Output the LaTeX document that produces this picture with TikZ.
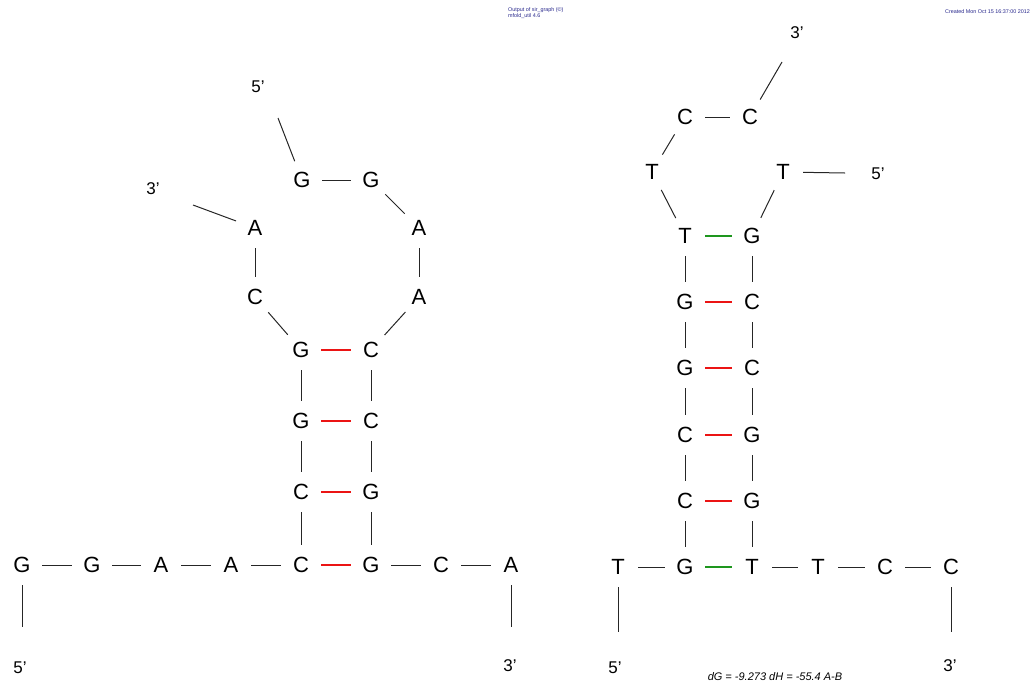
\documentclass[tikz,border=0pt]{standalone}
\usepackage{fontspec}
\setmainfont{Liberation Sans}
\definecolor{hdr}{RGB}{40,40,140}
\definecolor{pairred}{RGB}{235,20,20}
\definecolor{pairgreen}{RGB}{30,150,30}
\begin{document}
\begin{tikzpicture}[x=1pt,y=-1pt,
  base/.style={circle,inner sep=0pt,minimum size=40pt,font=\fontsize{22}{22}\selectfont},
  endlab/.style={inner sep=0pt,font=\fontsize{17}{17}\selectfont},
  bond/.style={line width=1pt,draw=black!85},
  redpair/.style={line width=1.1pt,draw=pairred},
  greenpair/.style={line width=1.1pt,draw=pairgreen},
  hdrtxt/.style={inner sep=0pt,text=hdr,font=\fontsize{5.4}{6}\selectfont,align=left}]
\useasboundingbox (0,0) rectangle (1032,686);
% header
\node[hdrtxt,anchor=north west] (h1) at (508,7) {Output of sir\_graph (©)\\mfold\_util 4.6};
\node[hdrtxt,anchor=north east] (h2) at (1030,9) {Created Mon Oct 15 16:37:00 2012};
% ---------- left structure ----------
\node[base] (l1) at (22,565) {G};
\node[base] (l2) at (92,565) {G};
\node[base] (l3) at (161,565) {A};
\node[base] (l4) at (231,565) {A};
\node[base] (l5) at (301,565) {C};
\node[base] (l6) at (371,565) {G};
\node[base] (l7) at (441,565) {C};
\node[base] (l8) at (511,565) {A};
\node[base] (s1) at (301,492) {C};
\node[base] (t1) at (371,492) {G};
\node[base] (s2) at (301,421) {G};
\node[base] (t2) at (371,421) {C};
\node[base] (s3) at (301,350) {G};
\node[base] (t3) at (371,350) {C};
\node[base] (lc) at (255,297) {C};
\node[base] (la1) at (255,228) {A};
\node[base] (lg1) at (302,180) {G};
\node[base] (lg2) at (371,180) {G};
\node[base] (la2) at (419,228) {A};
\node[base] (la3) at (419,297) {A};
\coordinate (l1e) at (22,627);
\coordinate (l8e) at (511,627);
\coordinate (lg1e) at (278,118);
\coordinate (la1e) at (193,205);
\node[endlab] (l5p) at (20,668) {5’};
\node[endlab] (l3p) at (510,666) {3’};
\node[endlab] (h5p) at (258,87) {5’};
\node[endlab] (h3p) at (153,189) {3’};
\draw[bond] (l1) -- (l2);
\draw[bond] (l2) -- (l3);
\draw[bond] (l3) -- (l4);
\draw[bond] (l4) -- (l5);
\draw[bond] (l6) -- (l7);
\draw[bond] (l7) -- (l8);
\draw[redpair] (l5) -- (l6);
\draw[bond] (l1) -- (l1e);
\draw[bond] (l8) -- (l8e);
\draw[bond] (l5) -- (s1);
\draw[bond] (s1) -- (s2);
\draw[bond] (s2) -- (s3);
\draw[bond] (l6) -- (t1);
\draw[bond] (t1) -- (t2);
\draw[bond] (t2) -- (t3);
\draw[redpair] (s1) -- (t1);
\draw[redpair] (s2) -- (t2);
\draw[redpair] (s3) -- (t3);
\draw[bond] (s3) -- (lc);
\draw[bond] (lc) -- (la1);
\draw[bond] (la1) -- (la1e);
\draw[bond] (lg1) -- (lg1e);
\draw[bond] (lg1) -- (lg2);
\draw[bond] (lg2) -- (la2);
\draw[bond] (la2) -- (la3);
\draw[bond] (la3) -- (t3);
% ---------- right structure ----------
\node[base] (r1) at (618,567) {T};
\node[base] (r2) at (685,567) {G};
\node[base] (r3) at (752,567) {T};
\node[base] (r4) at (818,567) {T};
\node[base] (r5) at (885,567) {C};
\node[base] (r6) at (951,567) {C};
\node[base] (u1) at (685,501) {C};
\node[base] (v1) at (752,501) {G};
\node[base] (u2) at (685,435) {C};
\node[base] (v2) at (752,435) {G};
\node[base] (u3) at (685,368) {G};
\node[base] (v3) at (752,368) {C};
\node[base] (u4) at (685,302) {G};
\node[base] (v4) at (752,302) {C};
\node[base] (u5) at (685,236) {T};
\node[base] (v5) at (752,236) {G};
\node[base] (rt1) at (652,172) {T};
\node[base] (rc1) at (685,117) {C};
\node[base] (rc2) at (750,117) {C};
\node[base] (rt2) at (783,172) {T};
\coordinate (r1e) at (618,632);
\coordinate (r6e) at (951,632);
\coordinate (rc2e) at (782,62);
\coordinate (rt2e) at (845,173);
\node[endlab] (r5p) at (615,668) {5’};
\node[endlab] (r3p) at (950,666) {3’};
\node[endlab] (q3p) at (797,33) {3’};
\node[endlab] (q5p) at (878,174) {5’};
\node[inner sep=0pt,font=\fontsize{11}{11}\selectfont\itshape] (dg) at (775,677) {dG = -9.273 dH = -55.4 A-B};
\draw[bond] (r1) -- (r2);
\draw[greenpair] (r2) -- (r3);
\draw[bond] (r3) -- (r4);
\draw[bond] (r4) -- (r5);
\draw[bond] (r5) -- (r6);
\draw[bond] (r1) -- (r1e);
\draw[bond] (r6) -- (r6e);
\draw[bond] (r2) -- (u1);
\draw[bond] (u1) -- (u2);
\draw[bond] (u2) -- (u3);
\draw[bond] (u3) -- (u4);
\draw[bond] (u4) -- (u5);
\draw[bond] (r3) -- (v1);
\draw[bond] (v1) -- (v2);
\draw[bond] (v2) -- (v3);
\draw[bond] (v3) -- (v4);
\draw[bond] (v4) -- (v5);
\draw[redpair] (u1) -- (v1);
\draw[redpair] (u2) -- (v2);
\draw[redpair] (u3) -- (v3);
\draw[redpair] (u4) -- (v4);
\draw[greenpair] (u5) -- (v5);
\draw[bond] (u5) -- (rt1);
\draw[bond] (rt1) -- (rc1);
\draw[bond] (rc1) -- (rc2);
\draw[bond] (rc2) -- (rc2e);
\draw[bond] (rt2) -- (v5);
\draw[bond] (rt2) -- (rt2e);
\end{tikzpicture}
\end{document}
